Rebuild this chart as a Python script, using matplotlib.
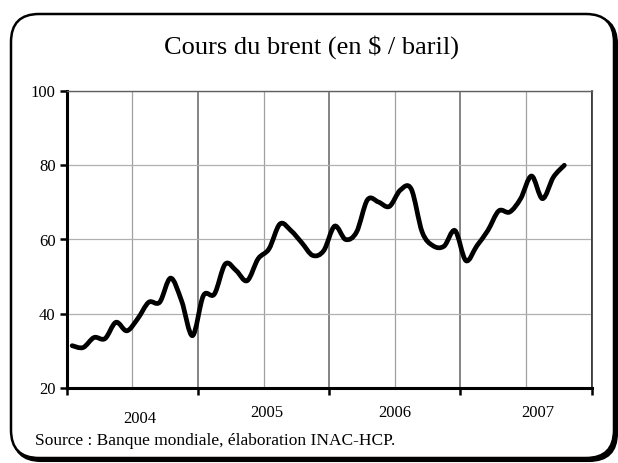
import numpy as np
import matplotlib
matplotlib.use('Agg')
import matplotlib.pyplot as plt
from matplotlib.path import Path
from matplotlib.patches import PathPatch, FancyBboxPatch
from matplotlib.ticker import FixedLocator, NullFormatter

plt.rcParams['font.family'] = ['Liberation Serif', 'DejaVu Serif']

# prix mensuel du brent, janvier 2004 -> octobre 2007
mois = np.arange(46) + 0.5
brent = [31.4, 30.9, 33.6, 33.3, 37.7, 35.4, 38.7, 43.1, 43.1, 49.6, 43.5, 34.1,
         44.9, 45.3, 53.4, 51.6, 48.9, 54.8, 57.5, 64.2, 62.4, 59.1, 55.7, 57.0,
         63.6, 60.0, 62.0, 70.7, 70.1, 68.9, 73.3, 73.6, 62.0, 58.3, 58.2, 62.4,
         54.3, 58.3, 62.4, 67.7, 67.4, 71.0, 77.1, 71.0, 76.8, 80.0]
annees = ['2004', '2005', '2006', '2007']
annees_x = [6.7, 18.3, 30.0, 43.1]
annees_y = [-0.105, -0.085, -0.085, -0.085]

fig = plt.figure(figsize=(6.18, 4.63), dpi=100)

# cadre arrondi avec ombre
bg = fig.add_axes([0, 0, 1, 1])
bg.set_xlim(0, 618)
bg.set_ylim(463, 0)
bg.axis('off')
ombre = FancyBboxPatch((13, 16), 604, 445, boxstyle='round,pad=0,rounding_size=28',
                       facecolor='black', edgecolor='black', lw=1.5)
cadre = FancyBboxPatch((11, 14), 603, 444, boxstyle='round,pad=0,rounding_size=28',
                       facecolor='white', edgecolor='black', lw=1.8)
bg.add_patch(ombre)
bg.add_patch(cadre)

ax = fig.add_axes([66.7 / 618, 1 - 388 / 463, 525 / 618, 297 / 463])
ax.set_facecolor('white')

# courbe lissée (catmull-rom -> bezier)
pts = np.column_stack([mois, brent])
verts = [pts[0]]
codes = [Path.MOVETO]
n = len(pts)
for i in range(n - 1):
    p0 = pts[i - 1] if i > 0 else pts[i]
    p1 = pts[i]
    p2 = pts[i + 1]
    p3 = pts[i + 2] if i + 2 < n else pts[i + 1]
    verts += [p1 + (p2 - p0) / 6, p2 - (p3 - p1) / 6, p2]
    codes += [Path.CURVE4] * 3
ax.add_patch(PathPatch(Path(verts, codes), facecolor='none', edgecolor='black',
                       lw=3.4, capstyle='round', joinstyle='round', zorder=5))

ax.set_xlim(0, 48)
ax.set_ylim(20, 100)
ax.set_yticks([20, 40, 60, 80, 100])
ax.xaxis.set_major_locator(FixedLocator([0, 12, 24, 36, 48]))
ax.xaxis.set_minor_locator(FixedLocator([6, 18, 30, 42]))
ax.xaxis.set_major_formatter(NullFormatter())
ax.tick_params(axis='y', direction='out', length=5, width=1.8, labelsize=12, pad=3)
ax.tick_params(axis='x', which='major', direction='out', length=5, width=1.8)
ax.tick_params(axis='x', which='minor', length=0)

ax.grid(axis='y', color='#b0b0b0', lw=0.9, zorder=1)
ax.grid(axis='x', which='major', color='#707070', lw=1.2, zorder=1)
ax.grid(axis='x', which='minor', color='#a0a0a0', lw=0.9, zorder=1)
ax.set_axisbelow(True)

for s in ['left', 'bottom']:
    ax.spines[s].set_linewidth(2.2)
    ax.spines[s].set_color('black')
ax.spines['top'].set_color('#606060')
ax.spines['top'].set_linewidth(1.0)
ax.spines['right'].set_color('#303030')
ax.spines['right'].set_linewidth(1.2)

for a, xa, ya in zip(annees, annees_x, annees_y):
    ax.text(xa, ya, a, transform=ax.get_xaxis_transform(), ha='center', va='center',
            fontsize=12)

fig.text(312 / 618, 1 - 47 / 463, 'Cours du brent (en $ / baril)', ha='center',
         va='center', fontsize=19)
fig.text(35 / 618, 1 - 441 / 463, 'Source : Banque mondiale, élaboration INAC-HCP.',
         ha='left', va='center', fontsize=12.5)

fig.savefig('out.png', dpi=100)
